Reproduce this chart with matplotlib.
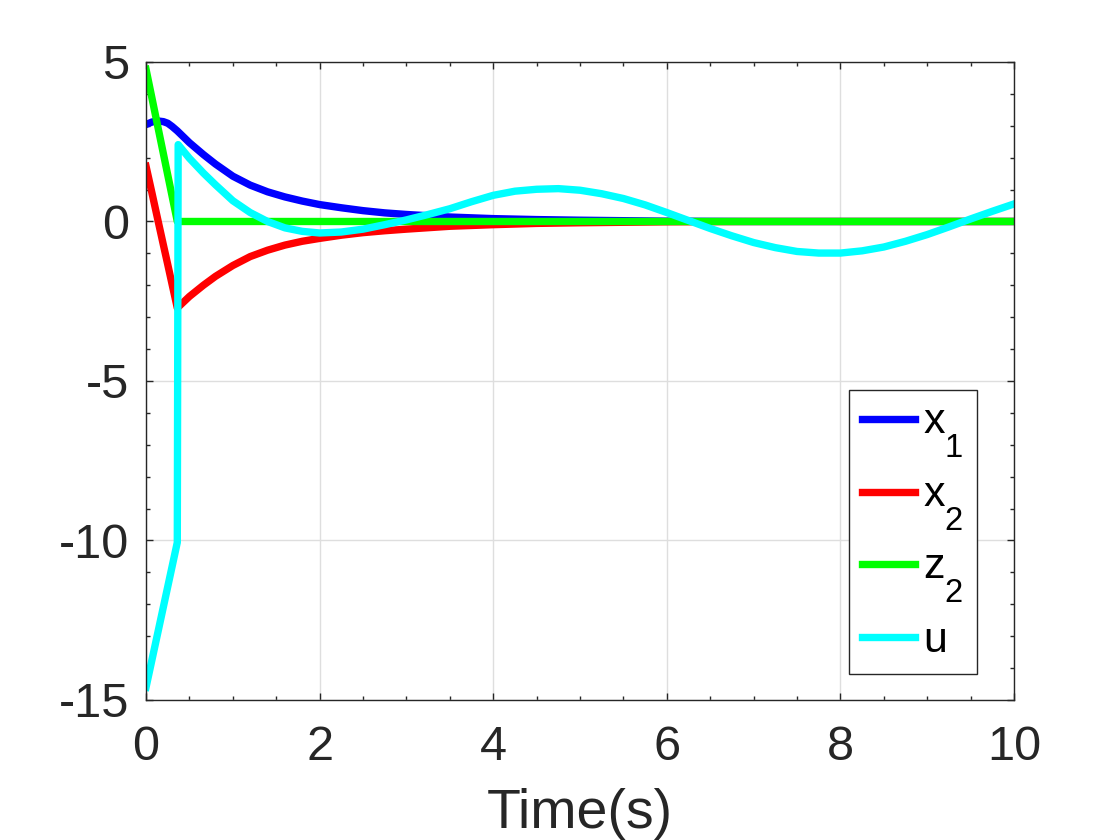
import matplotlib
matplotlib.use("Agg")
import matplotlib.pyplot as plt
from matplotlib.ticker import MultipleLocator

plt.rcParams['font.family'] = ['Liberation Sans', 'DejaVu Sans']
plt.rcParams['axes.unicode_minus'] = False
plt.rcParams['mathtext.default'] = 'regular'

# MATLAB-style subscripts: bigger and lower than mathtext's defaults
try:
    from matplotlib import _mathtext as mt
    mt.SHRINK_FACTOR = 0.76
    mt.FontConstantsBase.sub1 = 1.05
    for c in mt._font_constant_mapping.values():
        c.sub1 = 1.05
except Exception:
    pass

# values
t_state = [0, 0.07, 0.14, 0.2, 0.25, 0.3, 0.36, 0.5, 0.66, 0.8, 1.0, 1.2, 1.4, 1.6, 1.8, 2.0,
           2.25, 2.5, 2.75, 3.0, 3.5, 4.0, 4.5, 5.0, 6.0, 7.0, 8.0, 9.0, 10.0]
x1 = [3.04, 3.12, 3.15, 3.13, 3.08, 2.98, 2.84, 2.47, 2.1, 1.8, 1.42, 1.14, 0.93, 0.77, 0.64, 0.53,
      0.43, 0.34, 0.27, 0.22, 0.14, 0.09, 0.06, 0.04, 0.01, 0.0, 0.0, 0.0, 0.0]
x2 = [1.73, 0.87, 0.0, -0.74, -1.35, -1.97, -2.71, -2.35, -2.0, -1.72, -1.38, -1.1, -0.9, -0.74,
      -0.62, -0.53, -0.43, -0.35, -0.29, -0.24, -0.15, -0.1, -0.06, -0.04, -0.01, 0.0, 0.0, 0.0, 0.0]

t_z2 = [0, 0.36, 10.0]
z2 = [4.77, 0.0, 0.0]

t_u = [0, 0.36, 0.37, 0.5, 0.66, 0.8, 1.0, 1.2, 1.4, 1.6, 1.8, 2.0, 2.25, 2.5, 2.75,
       3.0, 3.25, 3.5, 3.75, 4.0, 4.25, 4.5, 4.75, 5.0, 5.25, 5.5, 5.75, 6.0, 6.25,
       6.5, 6.75, 7.0, 7.25, 7.5, 7.75, 8.0, 8.25, 8.5, 8.75, 9.0, 9.25, 9.5, 9.75, 10.0]
u = [-14.6, -10.06, 2.41, 1.98, 1.52, 1.15, 0.65, 0.28, 0.0, -0.2, -0.31, -0.36, -0.33,
     -0.24, -0.1, 0.05, 0.22, 0.4, 0.62, 0.82, 0.95, 1.01, 1.03, 0.98, 0.87, 0.72, 0.52,
     0.28, 0.03, -0.22, -0.45, -0.66, -0.82, -0.94, -0.99, -0.99, -0.92, -0.8, -0.62,
     -0.41, -0.17, 0.08, 0.32, 0.55]

labels = ['$x_1$', '$x_2$', '$z_2$', 'u']
colors = ['#0000ff', '#ff0000', '#00ff00', '#00ffff']

txt = '#262626'
fig = plt.figure(figsize=(11.2, 8.4), dpi=100)
ax = fig.add_axes([0.1304, 0.1667, 0.775, 0.7595])

lw = 5.3
ax.plot(t_state, x1, color=colors[0], lw=lw, label=labels[0])
ax.plot(t_state, x2, color=colors[1], lw=lw, label=labels[1])
ax.plot(t_z2, z2, color=colors[2], lw=lw, label=labels[2])
ax.plot(t_u, u, color=colors[3], lw=lw, label=labels[3])

ax.set_xlim(0, 10)
ax.set_ylim(-15, 5)
ax.xaxis.set_major_locator(MultipleLocator(2))
ax.xaxis.set_minor_locator(MultipleLocator(0.5))
ax.yaxis.set_major_locator(MultipleLocator(5))
ax.yaxis.set_minor_locator(MultipleLocator(1))
ax.grid(True, which='major', color='#dedede', lw=1.0)
ax.set_axisbelow(True)

for s in ax.spines.values():
    s.set_color(txt)
    s.set_linewidth(1.0)
ax.tick_params(which='both', direction='in', top=True, right=True, color=txt,
               labelcolor=txt, labelsize=35, width=1.0)
ax.tick_params(which='major', length=5)
ax.tick_params(which='minor', length=3)
ax.tick_params(axis='x', which='major', pad=18)
ax.tick_params(axis='y', which='major', pad=12)

ax.set_xlabel('Time(s)', fontsize=40, color=txt, labelpad=13)

leg = ax.legend(loc='lower right', bbox_to_anchor=(0.957, 0.041), borderaxespad=0,
                fontsize=31, fancybox=False, framealpha=1, edgecolor='#262626',
                handlelength=1.22, handletextpad=0.2, labelspacing=0.36,
                borderpad=0.3)
leg.get_frame().set_linewidth(1.0)

fig.savefig('out.png', dpi=100)
